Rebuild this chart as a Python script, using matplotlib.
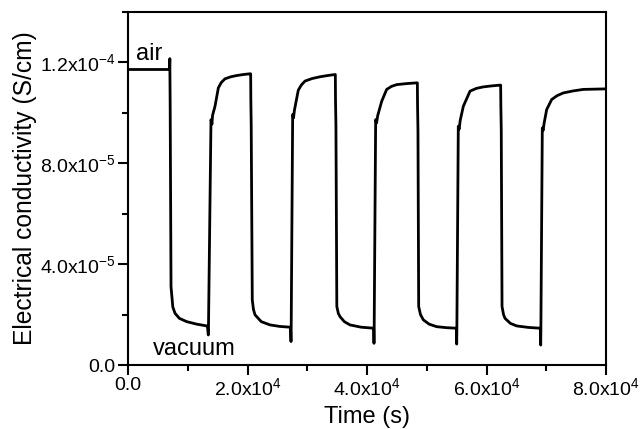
import numpy as np
import matplotlib
matplotlib.use("Agg")
import matplotlib.pyplot as plt
from matplotlib.ticker import FixedLocator, MultipleLocator

plt.rcParams['font.family'] = ['Liberation Sans', 'DejaVu Sans']
plt.rcParams['mathtext.default'] = 'regular'

# time (s)
time_s = [0, 6950, 7000, 7060, 7200, 7500, 7870, 8600, 9820, 11500, 13170, 13300, 13440,
          13470, 13890, 14050, 14150, 14560, 15120, 15600, 16230, 17200, 18190, 19300, 20420, 20530,
          20560, 20620, 20800, 21000, 21260, 22300, 23770, 25400, 27110, 27200, 27280,
          27310, 27560, 27700, 27850, 28500, 29000, 29620, 30800, 32130, 33400, 34640, 34700,
          34730, 34800, 34950, 35200, 35480, 36200, 37150, 39000, 41060, 41120, 41170,
          41200, 41450, 41600, 41800, 42460, 43290, 44100, 44970, 46600, 48320, 48430,
          48460, 48530, 48650, 48950, 49430, 50400, 51660, 53300, 54900, 54960, 55010,
          55040, 55280, 55420, 55600, 56120, 57240, 58300, 59470, 60900, 62260, 62370,
          62400, 62470, 62600, 62850, 63100, 64000, 65050, 67000, 68950, 69010, 69070,
          69100, 69340, 69480, 69650, 70070, 70910, 71800, 72850, 74500, 76200, 78000, 79830, 80000]

# conductivity in units of 1e-5 S/cm
cond_e5 = [11.72, 11.72, 12.15, 10.2, 3.1, 2.3, 2.05, 1.85, 1.72, 1.62, 1.55, 1.52, 1.19,
           1.5, 9.73, 9.55, 9.9, 10.26, 10.99, 11.2, 11.35, 11.43, 11.48, 11.52, 11.55, 11.55,
           10.5, 9.5, 2.58, 2.2, 1.99, 1.72, 1.59, 1.53, 1.5, 1.48, 0.93,
           1.4, 9.93, 9.8, 10.1, 10.9, 11.1, 11.26, 11.36, 11.43, 11.48, 11.52, 11.52,
           10.5, 9.5, 2.32, 2.05, 1.92, 1.72, 1.59, 1.5, 1.46, 1.44, 0.86,
           1.4, 9.73, 9.6, 9.9, 10.46, 10.93, 11.05, 11.12, 11.16, 11.19, 11.19,
           10.3, 9.3, 2.32, 2.0, 1.79, 1.62, 1.52, 1.48, 1.46, 1.44, 0.83,
           1.4, 9.47, 9.35, 9.7, 10.26, 10.86, 10.97, 11.03, 11.07, 11.10, 11.10,
           10.3, 9.3, 2.32, 2.0, 1.85, 1.65, 1.55, 1.49, 1.46, 1.44, 0.79,
           1.4, 9.40, 9.3, 9.6, 10.13, 10.53, 10.68, 10.79, 10.87, 10.93, 10.94, 10.95, 10.95]

x_ticks = [0, 20000, 40000, 60000, 80000]
x_tick_labels = ['0.0', r'$2.0x10^{4}$', r'$4.0x10^{4}$', r'$6.0x10^{4}$', r'$8.0x10^{4}$']
y_ticks = [0, 4e-5, 8e-5, 1.2e-4]
y_tick_labels = ['0.0', r'$4.0x10^{-5}$', r'$8.0x10^{-5}$', r'$1.2x10^{-4}$']

cond = np.array(cond_e5) * 1e-5

fig = plt.figure(figsize=(6.43, 4.29), dpi=100)
ax = fig.add_axes([128/643, 1-365/429, (606-128)/643, (365-12)/429])
ax.plot(time_s, cond, color='black', lw=2.0, solid_joinstyle='round')

ax.set_xlim(0, 80000)
ax.set_ylim(0, 1.4e-4)
ax.xaxis.set_major_locator(FixedLocator(x_ticks))
ax.set_xticklabels(x_tick_labels)
ax.xaxis.set_minor_locator(MultipleLocator(10000))
ax.yaxis.set_major_locator(FixedLocator(y_ticks))
ax.set_yticklabels(y_tick_labels)
ax.yaxis.set_minor_locator(MultipleLocator(2e-5))

ax.tick_params(which='major', direction='out', length=7, width=1.5, labelsize=14, pad=2)
ax.tick_params(which='minor', direction='out', length=4, width=1.5)
for s in ax.spines.values():
    s.set_linewidth(1.5)

ax.set_xlabel('Time (s)', fontsize=17, labelpad=5)
ax.set_ylabel('Electrical conductivity (S/cm)', fontsize=17.7, labelpad=2)

ax.text(1300, 1.208e-4, 'air', fontsize=17, va='baseline', ha='left')
ax.text(4200, 0.4e-5, 'vacuum', fontsize=17, va='baseline', ha='left')

fig.savefig('out.png', dpi=100)
